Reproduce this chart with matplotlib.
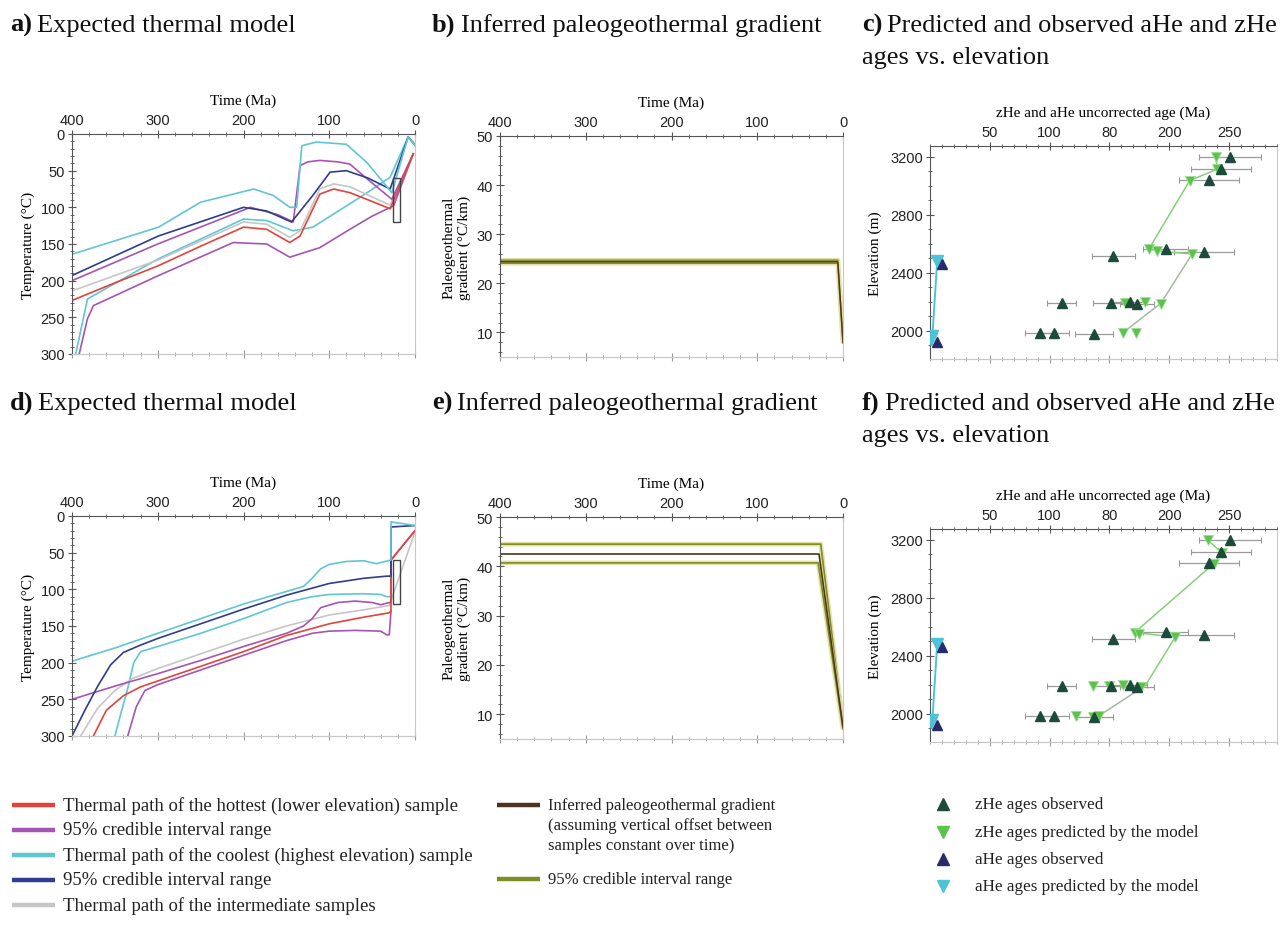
import matplotlib
matplotlib.use("Agg")
import matplotlib.pyplot as plt
from matplotlib.lines import Line2D
from matplotlib.patches import Rectangle
from matplotlib.ticker import MultipleLocator, FixedLocator

# ---------------- data ----------------
# Upper model (panel a): time (Ma) / temperature (degC) paths
a_hot_t = [400, 350, 300, 250, 200, 173, 146, 134, 111, 95, 76, 50, 29, 2]
a_hot_T = [227, 203, 180, 153, 127, 130, 148, 139, 82, 75, 80, 92, 102, 27]
a_mid_t = [400, 300, 200, 173, 146, 134, 111, 95, 76, 29, 2]
a_mid_T = [214, 172, 120, 123, 141, 132, 75, 68, 72, 97, 27]
a_hot_hi_t = [400, 300, 192, 160, 142, 134, 125, 111, 90, 76, 56, 27, 2]
a_hot_hi_T = [200, 150, 100, 110, 120, 43, 38, 36, 38, 41, 61, 89, 27]
a_hot_lo_t = [392, 382, 375, 299, 212, 173, 146, 130, 111, 76, 50, 25, 2]
a_hot_lo_T = [302, 252, 234, 193, 148, 150, 168, 162, 155, 130, 112, 98, 27]
a_cool_t = [400, 299, 250, 188, 165, 146, 138, 132, 115, 80, 56, 27, 8, 0]
a_cool_T = [164, 127, 93, 75, 84, 100, 100, 16, 11, 14, 39, 80, 4, 15]
a_cool2_t = [396, 382, 299, 200, 173, 142, 119, 61, 29, 8, 0]
a_cool2_T = [302, 225, 170, 116, 118, 132, 127, 84, 59, 4, 15]
a_cool_ci_t = [400, 299, 200, 173, 144, 120, 99, 80, 55, 29, 8, 0]
a_cool_ci_T = [193, 139, 100, 105, 120, 85, 52, 50, 60, 75, 4, 15]

# Lower model (panel d)
d_hot_t = [375, 360, 340, 320, 300, 250, 200, 150, 100, 60, 30, 28, 28, 0]
d_hot_T = [300, 265, 245, 233, 225, 205, 185, 163, 147, 138, 132, 130, 60, 20]
d_mid_t = [390, 370, 350, 330, 300, 250, 200, 150, 100, 60, 30, 28, 0]
d_mid_T = [300, 262, 238, 222, 208, 188, 168, 150, 135, 128, 122, 115, 22]
d_hot_hi_t = [400, 350, 300, 250, 200, 150, 130, 120, 110, 90, 70, 50, 40, 30, 28, 28, 0]
d_hot_hi_T = [250, 232, 215, 197, 178, 160, 150, 140, 125, 118, 116, 118, 121, 118, 118, 60, 20]
d_hot_lo_t = [335, 325, 315, 300, 250, 200, 150, 120, 100, 70, 40, 33, 30, 28]
d_hot_lo_T = [300, 260, 238, 230, 210, 190, 170, 160, 157, 156, 157, 162, 162, 130]
d_cool_t = [400, 350, 300, 250, 200, 150, 130, 120, 110, 100, 80, 60, 45, 35, 28, 28, 0]
d_cool_T = [198, 180, 160, 140, 120, 103, 96, 85, 72, 66, 62, 61, 65, 62, 60, 8, 13]
d_cool2_t = [350, 342, 335, 328, 320, 300, 250, 200, 150, 120, 100, 60, 40, 33, 28]
d_cool2_T = [300, 265, 235, 200, 185, 178, 160, 140, 118, 110, 107, 106, 107, 110, 110]
d_cool_ci_t = [400, 385, 370, 355, 340, 320, 300, 250, 200, 150, 100, 60, 33, 28, 28, 0]
d_cool_ci_T = [300, 265, 232, 203, 186, 176, 167, 147, 127, 108, 92, 85, 82, 82, 15, 13]

# Constraint box (time range, temperature range)
box_t = [18, 26]
box_T = [60, 120]

# Paleogeothermal gradient (degC/km)
b_t = [400, 6, 0]
b_mid = [24.4, 24.4, 8.0]
b_hi = [24.7, 24.7, 8.3]
b_lo = [24.1, 24.1, 7.8]
e_mid_t = [400, 28, 0]
e_mid = [42.5, 42.5, 7.5]
e_hi_t = [400, 26, 0]
e_hi = [44.5, 44.5, 8.0]
e_lo_t = [400, 29, 0]
e_lo = [40.7, 40.7, 7.0]

# Ages vs. elevation
zhe_obs_age = [251, 243, 233, 197, 229, 153, 110, 151, 167, 173, 92, 104, 137]
zhe_obs_elev = [3200, 3115, 3040, 2565, 2545, 2515, 2190, 2190, 2195, 2185, 1985, 1985, 1978]
zhe_obs_err = [26, 25, 25, 19, 25, 18, 12, 15, 14, 14, 13, 12, 16]
ahe_obs_age = [10, 6]
ahe_obs_elev = [2460, 1925]

c_zhe_pred_age = [239, 240, 217, 183, 190, 219, 163, 180, 193, 161, 172]
c_zhe_pred_elev = [3200, 3115, 3036, 2565, 2550, 2530, 2190, 2195, 2185, 1985, 1985]
c_zhe_path_age = [239, 240, 217, 183, 190, 219, 193, 161]
c_zhe_path_elev = [3200, 3115, 3036, 2565, 2550, 2530, 2190, 1985]
c_ahe_pred_age = [6, 2, 1]
c_ahe_pred_elev = [2480, 1965, 1945]

f_zhe_pred_age = [232, 244, 237, 171, 175, 205, 136, 150, 161, 176, 122, 136, 141]
f_zhe_pred_elev = [3200, 3110, 3035, 2560, 2550, 2530, 2190, 2190, 2195, 2185, 1985, 1978, 1985]
f_zhe_path_age = [232, 244, 237, 171, 205, 180, 141]
f_zhe_path_elev = [3200, 3110, 3035, 2560, 2530, 2195, 1985]
f_ahe_pred_age = [6, 2, 1]
f_ahe_pred_elev = [2480, 1960, 1940]

age_ticks = [50, 100, 150, 200, 250]
age_tick_labels = ["50", "100", "80", "200", "250"]

# ---------------- style ----------------
W, H = 1285, 928
SERIF = ["Liberation Serif", "DejaVu Serif"]
SANS = ["Liberation Sans", "DejaVu Sans"]

RED = "#e2433b"
PURPLE = "#a654b3"
CYAN = "#5fc6d6"
NAVY = "#2f3d8c"
GRAY = "#c6c6c6"
BROWN = "#4e3320"
OLIVE = "#7d8c24"
ZOBS = "#1c4b3c"
ZPRED = "#5cc24c"
AOBS = "#282a6c"
APRED = "#4cc3d6"
SPINE = "#555555"
LIGHT = "#c8c8c8"
LW = 1.2

fig = plt.figure(figsize=(W / 100, H / 100), dpi=100)


def rect(left, top, right, bottom):
    return [left / W, 1 - bottom / H, (right - left) / W, (bottom - top) / H]


def frame(ax, xmajor, xminor, ymajor, yminor, xlabel, ylabel, ylabelpad=4):
    ax.xaxis.tick_top()
    ax.xaxis.set_label_position("top")
    ax.xaxis.set_major_locator(xmajor)
    ax.xaxis.set_minor_locator(xminor)
    ax.yaxis.set_major_locator(ymajor)
    ax.yaxis.set_minor_locator(yminor)
    ax.tick_params(which="both", direction="inout", colors=SPINE,
                   labelcolor="#222222", labelsize=10.5)
    ax.tick_params(which="major", length=6, width=0.8, pad=2)
    ax.tick_params(which="minor", length=3, width=0.6)
    for lab in ax.get_xticklabels() + ax.get_yticklabels():
        lab.set_fontfamily(SANS)
    ax.spines["top"].set_color(SPINE)
    ax.spines["left"].set_color(SPINE)
    ax.spines["right"].set_color(LIGHT)
    ax.spines["bottom"].set_color(LIGHT)
    ax.set_xlabel(xlabel, fontfamily=SERIF, fontsize=11, labelpad=7)
    ax.set_ylabel(ylabel, fontfamily=SERIF, fontsize=11, labelpad=ylabelpad)
    sec = ax.secondary_xaxis("bottom")
    sec.xaxis.set_major_locator(xmajor)
    sec.xaxis.set_minor_locator(xminor)
    sec.tick_params(which="both", direction="inout", colors="#9a9a9a",
                    labelbottom=False)
    sec.tick_params(which="major", length=6, width=0.8)
    sec.tick_params(which="minor", length=3, width=0.6)
    sec.spines["bottom"].set_color(LIGHT)


def thermal_panel(ax, curves, box):
    for t, T, col in curves:
        ax.plot(t, T, color=col, lw=LW, solid_joinstyle="round")
    ax.add_patch(Rectangle((box[0][0], box[1][0]), box[0][1] - box[0][0],
                           box[1][1] - box[1][0], fill=False,
                           edgecolor="#444444", lw=1.0, zorder=5))
    ax.set_xlim(400, 0)
    ax.set_ylim(300, 0)
    frame(ax, MultipleLocator(100), MultipleLocator(20),
          MultipleLocator(50), MultipleLocator(10),
          "Time (Ma)", "Temperature (\u00b0C)")


def gradient_panel(ax, lines):
    for t, g, col, lw, halo in lines:
        if halo:
            ax.plot(t, g, color="#e4e2a8", lw=lw + 2.2, solid_capstyle="butt")
        ax.plot(t, g, color=col, lw=lw)
    ax.set_xlim(400, 0)
    ax.set_ylim(5, 50)
    frame(ax, MultipleLocator(100), MultipleLocator(20),
          MultipleLocator(10), MultipleLocator(2),
          "Time (Ma)", "Paleogeothermal\ngradient (\u00b0C/km)")


def age_panel(ax, path_age, path_elev, pred_age, pred_elev, ahe_age, ahe_elev):
    ax.errorbar(zhe_obs_age, zhe_obs_elev, xerr=zhe_obs_err, fmt="none",
                ecolor="#9a9a9a", elinewidth=0.9, capsize=2, capthick=0.8,
                zorder=2)
    ax.plot(path_age[:6], path_elev[:6], color="#86d07a", lw=1.1, zorder=3)
    ax.plot(path_age[5:], path_elev[5:], color="#a7b7a4", lw=1.1, zorder=3)
    ax.plot(ahe_age, ahe_elev, color=APRED, lw=1.4, zorder=3)
    ax.plot(pred_age, pred_elev, ls="none", marker="v", ms=7,
            color=ZPRED, mec="#9be08f", mew=0.6, zorder=4)
    ax.plot(zhe_obs_age, zhe_obs_elev, ls="none", marker="^", ms=7,
            color=ZOBS, zorder=5)
    ax.plot(ahe_age, ahe_elev, ls="none", marker="v", ms=8,
            color=APRED, zorder=4)
    ax.plot(ahe_obs_age, ahe_obs_elev, ls="none", marker="^", ms=6.5,
            color=AOBS, zorder=5)
    ax.set_xlim(0, 290)
    ax.set_ylim(1805, 3275)
    frame(ax, FixedLocator(age_ticks), MultipleLocator(10),
          MultipleLocator(400), MultipleLocator(100),
          "zHe and aHe uncorrected age (Ma)", "Elevation (m)", ylabelpad=6)
    ax.set_xticklabels(age_tick_labels, fontfamily=SANS)


ax_a = fig.add_axes(rect(72, 135, 415, 355))
thermal_panel(ax_a, [
    (a_hot_lo_t, a_hot_lo_T, PURPLE),
    (a_cool2_t, a_cool2_T, CYAN),
    (a_mid_t, a_mid_T, GRAY),
    (a_hot_hi_t, a_hot_hi_T, PURPLE),
    (a_cool_ci_t, a_cool_ci_T, NAVY),
    (a_cool_t, a_cool_T, CYAN),
    (a_hot_t, a_hot_T, RED),
], (box_t, box_T))

ax_d = fig.add_axes(rect(72, 517, 415, 737))
thermal_panel(ax_d, [
    (d_hot_lo_t, d_hot_lo_T, PURPLE),
    (d_cool2_t, d_cool2_T, CYAN),
    (d_mid_t, d_mid_T, GRAY),
    (d_hot_hi_t, d_hot_hi_T, PURPLE),
    (d_hot_t, d_hot_T, RED),
    (d_cool_ci_t, d_cool_ci_T, NAVY),
    (d_cool_t, d_cool_T, CYAN),
], (box_t, box_T))

ax_b = fig.add_axes(rect(500, 137, 843, 358))
gradient_panel(ax_b, [
    (b_t, b_hi, OLIVE, 1.2, True),
    (b_t, b_lo, OLIVE, 1.2, True),
    (b_t, b_mid, BROWN, 1.0, False),
])

ax_e = fig.add_axes(rect(500, 518, 843, 740))
gradient_panel(ax_e, [
    (e_hi_t, e_hi, OLIVE, 1.2, True),
    (e_lo_t, e_lo, OLIVE, 1.2, True),
    (e_mid_t, e_mid, BROWN, 1.2, False),
])

ax_c = fig.add_axes(rect(930, 147, 1277, 360))
age_panel(ax_c, c_zhe_path_age, c_zhe_path_elev, c_zhe_pred_age,
          c_zhe_pred_elev, c_ahe_pred_age, c_ahe_pred_elev)

ax_f = fig.add_axes(rect(930, 530, 1277, 743))
age_panel(ax_f, f_zhe_path_age, f_zhe_path_elev, f_zhe_pred_age,
          f_zhe_pred_elev, f_ahe_pred_age, f_ahe_pred_elev)

# ---------------- panel titles ----------------
renderer = fig.canvas.get_renderer()
TSIZE = 19


def panel_title(x, y, tag, text):
    t1 = fig.text(x / W, 1 - y / H, tag, fontfamily=SERIF, fontweight="bold",
                  fontsize=TSIZE, va="baseline", color="#111111")
    bb = t1.get_window_extent(renderer)
    fig.text((bb.x1 + 5) / W, 1 - y / H, text, fontfamily=SERIF,
             fontsize=TSIZE, va="baseline", color="#111111")


panel_title(10, 32, "a)", "Expected thermal model")
panel_title(432, 32, "b)", "Inferred paleogeothermal gradient")
panel_title(862, 32, "c)", "Predicted and observed aHe and zHe")
fig.text(862 / W, 1 - 64 / H, "ages vs. elevation", fontfamily=SERIF,
         fontsize=TSIZE, va="baseline", color="#111111")
panel_title(10, 410, "d)", "Expected thermal model")
panel_title(432, 410, "e)", "Inferred paleogeothermal gradient")
panel_title(862, 410, "f)", "Predicted and observed aHe and zHe")
fig.text(862 / W, 1 - 442 / H, "ages vs. elevation", fontfamily=SERIF,
         fontsize=TSIZE, va="baseline", color="#111111")

# ---------------- legends ----------------


def legend_line(x0, x1, y, color, label_lines, size, dy=20):
    fig.add_artist(Line2D([x0 / W, x1 / W], [1 - y / H, 1 - y / H],
                          color=color, lw=3.2, solid_capstyle="butt"))
    for i, s in enumerate(label_lines):
        fig.text((x1 + 8) / W, 1 - (y + i * dy) / H, s, fontfamily=SERIF,
                 fontsize=size, va="center", color="#222222")


legend_line(12, 55, 806, RED, ["Thermal path of the hottest (lower elevation) sample"], 13.5)
legend_line(12, 55, 831, PURPLE, ["95% credible interval range"], 13.5)
legend_line(12, 55, 856, CYAN, ["Thermal path of the coolest (highest elevation) sample"], 13.5)
legend_line(12, 55, 881, NAVY, ["95% credible interval range"], 13.5)
legend_line(12, 55, 906, GRAY, ["Thermal path of the intermediate samples"], 13.5)
legend_line(497, 540, 806, BROWN, ["Inferred paleogeothermal gradient",
                                   "(assuming vertical offset between",
                                   "samples constant over time)"], 12)
legend_line(497, 540, 880, OLIVE, ["95% credible interval range"], 12)


def legend_marker(y, marker, color, label):
    fig.add_artist(Line2D([943 / W], [1 - y / H], marker=marker, ms=8,
                          color=color, ls="none"))
    fig.text(975 / W, 1 - y / H, label, fontfamily=SERIF, fontsize=12.3,
             va="center", color="#222222")


legend_marker(805, "^", ZOBS, "zHe ages observed")
legend_marker(833, "v", ZPRED, "zHe ages predicted by the model")
legend_marker(860, "^", AOBS, "aHe ages observed")
legend_marker(887, "v", APRED, "aHe ages predicted by the model")

fig.savefig("out.png", dpi=100, facecolor="white")
